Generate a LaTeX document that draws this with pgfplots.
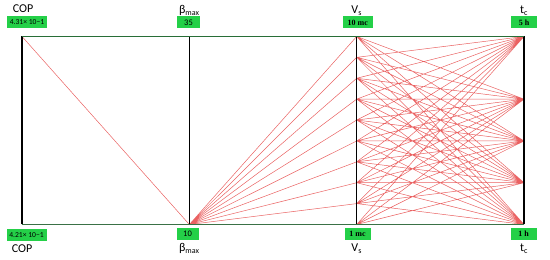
\documentclass[border=0pt]{standalone}
\usepackage{pgfplots}
\pgfplotsset{compat=1.18}
\usepackage{fontspec}
\setmainfont{Carlito}
\newfontfamily\serif{Liberation Serif}
\definecolor{boxgreen}{RGB}{36,208,72}
\definecolor{axgreen}{RGB}{40,110,55}
\definecolor{linered}{RGB}{230,70,70}
\begin{document}
\begin{tikzpicture}
\begin{axis}[
  scale only axis, width=550pt, height=259pt,
  xmin=-0.1315, xmax=3.155, ymin=-0.1835, ymax=1.194,
  hide axis, clip=false, unbounded coords=jump,
]
\path (rel axis cs:0,0) rectangle (rel axis cs:1,1);
% COP -> beta_max
\addplot[linered, line width=0.5pt, opacity=0.85] coordinates {(0,1) (1,0)};
% beta_max -> Vs
\addplot[linered, line width=0.5pt, opacity=0.85] coordinates {
(1,0) (2,0) (nan,nan)
(1,0) (2,0.1111) (nan,nan)
(1,0) (2,0.2222) (nan,nan)
(1,0) (2,0.3333) (nan,nan)
(1,0) (2,0.4444) (nan,nan)
(1,0) (2,0.5556) (nan,nan)
(1,0) (2,0.6667) (nan,nan)
(1,0) (2,0.7778) (nan,nan)
(1,0) (2,0.8889) (nan,nan)
(1,0) (2,1)
};
% Vs -> tc
\addplot[linered, line width=0.5pt, opacity=0.85] coordinates {
(2,0) (3,0) (nan,nan) (2,0) (3,0.2222) (nan,nan) (2,0) (3,0.4444) (nan,nan) (2,0) (3,0.6667) (nan,nan) (2,0) (3,1) (nan,nan)
(2,0.1111) (3,0) (nan,nan) (2,0.1111) (3,0.2222) (nan,nan) (2,0.1111) (3,0.4444) (nan,nan) (2,0.1111) (3,0.6667) (nan,nan) (2,0.1111) (3,1) (nan,nan)
(2,0.2222) (3,0) (nan,nan) (2,0.2222) (3,0.2222) (nan,nan) (2,0.2222) (3,0.4444) (nan,nan) (2,0.2222) (3,0.6667) (nan,nan) (2,0.2222) (3,1) (nan,nan)
(2,0.3333) (3,0) (nan,nan) (2,0.3333) (3,0.2222) (nan,nan) (2,0.3333) (3,0.4444) (nan,nan) (2,0.3333) (3,0.6667) (nan,nan) (2,0.3333) (3,1) (nan,nan)
(2,0.4444) (3,0) (nan,nan) (2,0.4444) (3,0.2222) (nan,nan) (2,0.4444) (3,0.4444) (nan,nan) (2,0.4444) (3,0.6667) (nan,nan) (2,0.4444) (3,1) (nan,nan)
(2,0.5556) (3,0) (nan,nan) (2,0.5556) (3,0.2222) (nan,nan) (2,0.5556) (3,0.4444) (nan,nan) (2,0.5556) (3,0.6667) (nan,nan) (2,0.5556) (3,1) (nan,nan)
(2,0.6667) (3,0) (nan,nan) (2,0.6667) (3,0.2222) (nan,nan) (2,0.6667) (3,0.4444) (nan,nan) (2,0.6667) (3,0.6667) (nan,nan) (2,0.6667) (3,1) (nan,nan)
(2,0.7778) (3,0) (nan,nan) (2,0.7778) (3,0.2222) (nan,nan) (2,0.7778) (3,0.4444) (nan,nan) (2,0.7778) (3,0.6667) (nan,nan) (2,0.7778) (3,1) (nan,nan)
(2,0.8889) (3,0) (nan,nan) (2,0.8889) (3,0.2222) (nan,nan) (2,0.8889) (3,0.4444) (nan,nan) (2,0.8889) (3,0.6667) (nan,nan) (2,0.8889) (3,1) (nan,nan)
(2,1) (3,0) (nan,nan) (2,1) (3,0.2222) (nan,nan) (2,1) (3,0.4444) (nan,nan) (2,1) (3,0.6667) (nan,nan) (2,1) (3,1)
};
% vertical axes
\addplot[black, line width=1.2pt] coordinates {(0,0) (0,1) (nan,nan) (1,0) (1,1) (nan,nan) (2,0) (2,1) (nan,nan) (3,0) (3,1)};
% top and bottom lines
\addplot[axgreen, line width=1.2pt] coordinates {(0,1) (3,1)};
\addplot[axgreen!80!gray, line width=1.2pt] coordinates {(0,0) (3,0)};
% header labels
\tikzset{hdr/.style={font=\fontsize{12}{12}\selectfont, anchor=center, inner sep=0pt}}
\node[hdr] at (axis cs:0.006,1.146) {COP};
\node[hdr] at (axis cs:1.0,1.138) {β\textsubscript{max}};
\node[hdr] at (axis cs:2.0,1.138) {V\textsubscript{s}};
\node[hdr] at (axis cs:3.0,1.138) {t\textsubscript{c}};
\node[hdr] at (axis cs:0.0,-0.13) {COP};
\node[hdr] at (axis cs:1.0,-0.13) {β\textsubscript{max}};
\node[hdr] at (axis cs:2.0,-0.13) {V\textsubscript{s}};
\node[hdr] at (axis cs:3.0,-0.13) {t\textsubscript{c}};
% green boxes
\tikzset{gb/.style={fill=boxgreen, inner sep=0pt, minimum height=12pt, anchor=center}}
\node[gb, minimum width=40pt, font=\fontsize{7.6}{7.6}\selectfont] at (axis cs:0.030,1.0745) {4.31× 10−1};
\node[gb, minimum width=23pt, font=\fontsize{8.5}{8.5}\selectfont] at (axis cs:0.995,1.0745) {35};
\node[gb, minimum width=30pt, font=\serif\bfseries\fontsize{8}{8}\selectfont] at (axis cs:2.006,1.0745) {10 mc};
\node[gb, minimum width=26pt, font=\serif\bfseries\fontsize{8}{8}\selectfont] at (axis cs:3.0,1.0745) {5 h};
\node[gb, minimum width=40pt, font=\fontsize{7.6}{7.6}\selectfont] at (axis cs:0.027,-0.0559) {4.21× 10−1};
\node[gb, minimum width=22pt, font=\fontsize{8.5}{8.5}\selectfont] at (axis cs:0.989,-0.0505) {10};
\node[gb, minimum width=26pt, font=\serif\bfseries\fontsize{8}{8}\selectfont] at (axis cs:2.005,-0.048) {1 mc};
\node[gb, minimum width=26pt, font=\serif\bfseries\fontsize{8}{8}\selectfont] at (axis cs:2.997,-0.0505) {1 h};
\end{axis}
\end{tikzpicture}
\end{document}
